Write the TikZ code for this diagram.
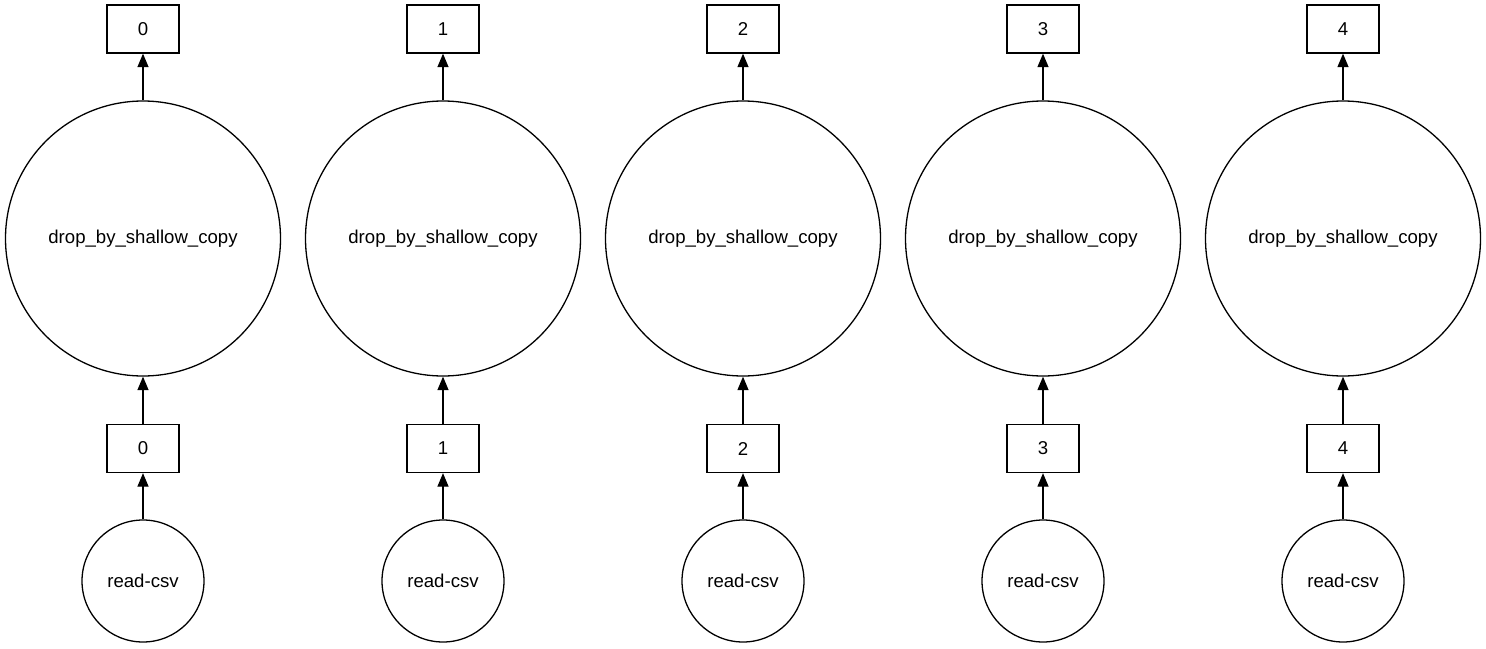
\documentclass[tikz,border=0pt]{standalone}
\usepackage{fontspec}
\setmainfont{Liberation Sans}
\usetikzlibrary{arrows.meta}
\begin{document}
\begin{tikzpicture}[x=1pt,y=-1pt,
  every node/.style={font=\fontsize{18.6}{22}\selectfont},
  keybox/.style={draw,line width=1.3pt,rectangle,minimum width=72pt,minimum height=48pt,inner sep=0pt},
  bigtask/.style={draw,line width=1.3pt,circle,minimum size=275pt,inner sep=0pt},
  smalltask/.style={draw,line width=1.3pt,circle,minimum size=122pt,inner sep=0pt},
  conn/.style={line width=1.3pt,-{Triangle[length=13.5pt,width=11pt]}}]
\useasboundingbox (0,0) rectangle (1486,648);
\foreach \i in {0,...,4}{
  \pgfmathsetmacro{\cx}{143+300*\i}
  \node[keybox] (top\i) at (\cx,29) {\i};
  \node[bigtask] (drop\i) at (\cx,238.5) {drop\_by\_shallow\_copy};
  \node[keybox] (mid\i) at (\cx,448.5) {\i};
  \node[smalltask] (read\i) at (\cx,581) {read-csv};
  \draw[conn] (read\i) -- (mid\i);
  \draw[conn] (mid\i) -- (drop\i);
  \draw[conn] (drop\i) -- (top\i);
}
\end{tikzpicture}
\end{document}
